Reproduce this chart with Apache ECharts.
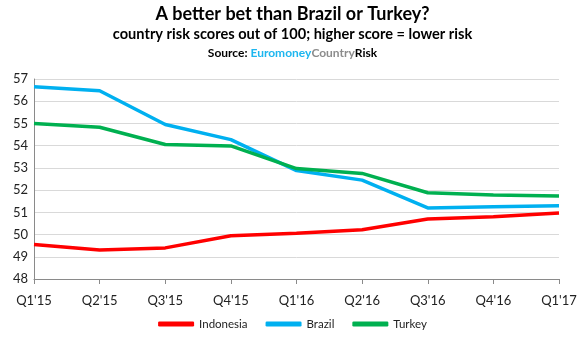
<!DOCTYPE html>
<html>
<head>
<meta charset="utf-8">
<script src="https://cdn.jsdelivr.net/npm/echarts@6/dist/echarts.min.js"></script>
<style>
  html, body { margin: 0; padding: 0; background: #fff; }
  #chart { width: 585px; height: 345px; }
</style>
</head>
<body>
<div id="chart"></div>
<script>
// Quarterly country risk scores (out of 100)
const quarters = ["Q1'15", "Q2'15", "Q3'15", "Q4'15", "Q1'16", "Q2'16", "Q3'16", "Q4'16", "Q1'17"];
const indonesia = [49.55, 49.3, 49.4, 49.95, 50.06, 50.22, 50.7, 50.8, 50.97];
const brazil = [56.65, 56.47, 54.95, 54.27, 52.88, 52.45, 51.2, 51.25, 51.3];
const turkey = [55.0, 54.83, 54.05, 53.99, 52.97, 52.75, 51.88, 51.78, 51.73];

const FONT = 'Lato, "Open Sans", sans-serif';

const chart = echarts.init(document.getElementById('chart'), null, { renderer: 'canvas' });

function lineSeries(name, data, color) {
  return {
    name: name,
    type: 'line',
    data: data,
    symbol: 'none',
    smooth: false,
    lineStyle: { color: color, width: 3.5 },
    itemStyle: { color: color }
  };
}

chart.setOption({
  animation: false,
  backgroundColor: '#ffffff',
  title: [
    {
      text: 'A better bet than Brazil or Turkey?',
      left: 'center', top: 0,
      textStyle: { fontFamily: FONT, fontSize: 18, fontWeight: 'bold', color: '#000' }
    },
    {
      text: 'country risk scores out of 100; higher score = lower risk',
      left: 'center', top: 22,
      textStyle: { fontFamily: FONT, fontSize: 14.6, fontWeight: 'bold', color: '#000' }
    },
    {
      text: '{a|Source: }{b|Euromoney}{c|Country}{a|Risk}',
      left: 'center', top: 42,
      textStyle: {
        fontFamily: FONT, fontSize: 12, fontWeight: 'bold',
        rich: {
          a: { fontFamily: FONT, fontSize: 12, fontWeight: 'bold', color: '#000' },
          b: { fontFamily: FONT, fontSize: 12, fontWeight: 'bold', color: '#1cb6ef' },
          c: { fontFamily: FONT, fontSize: 12, fontWeight: 'bold', color: '#8c8c8c' }
        }
      }
    }
  ],
  legend: {
    bottom: 10,
    left: 'center',
    itemWidth: 36,
    itemHeight: 5,
    itemGap: 18,
    icon: 'roundRect',
    textStyle: { fontFamily: FONT, fontSize: 11.5, color: '#222' },
    data: ['Indonesia', 'Brazil', 'Turkey']
  },
  grid: { left: 34, right: 26, top: 79, bottom: 66, containLabel: false },
  xAxis: {
    type: 'category',
    data: quarters,
    boundaryGap: false,
    axisLine: { lineStyle: { color: '#8a8a8a', width: 1 } },
    axisTick: { show: true, length: 5, lineStyle: { color: '#8a8a8a' } },
    axisLabel: { fontFamily: FONT, fontSize: 13, color: '#222', margin: 15 },
    splitLine: { show: false }
  },
  yAxis: {
    type: 'value',
    min: 48, max: 57, interval: 1,
    axisLine: { show: true, lineStyle: { color: '#8a8a8a', width: 1 } },
    axisTick: { show: false },
    axisLabel: { fontFamily: FONT, fontSize: 13, color: '#222', margin: 6 },
    splitLine: { lineStyle: { color: '#d9d9d9', width: 1 } }
  },
  series: [
    lineSeries('Indonesia', indonesia, '#ff0000'),
    lineSeries('Brazil', brazil, '#00b0f0'),
    lineSeries('Turkey', turkey, '#00b050')
  ]
});
</script>
</body>
</html>
